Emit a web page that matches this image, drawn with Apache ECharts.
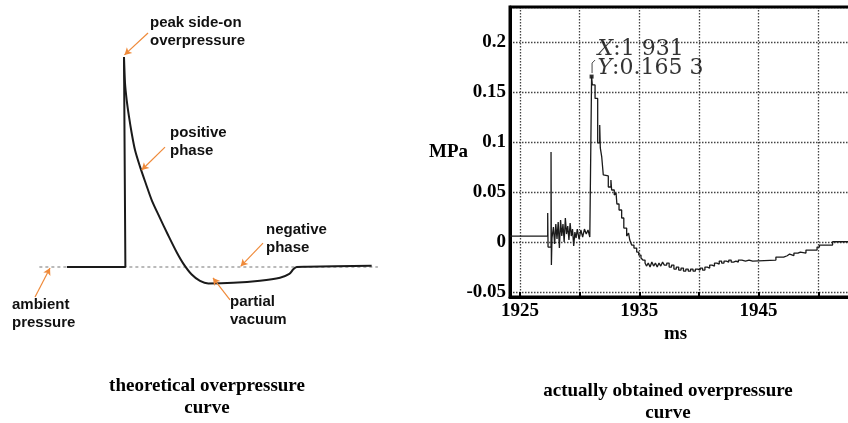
<!DOCTYPE html>
<html>
<head>
<meta charset="utf-8">
<script src="https://cdn.jsdelivr.net/npm/echarts@6/dist/echarts.min.js"></script>
<style>
html,body{margin:0;padding:0;background:#fff;}
#c{width:848px;height:423px;}
</style>
</head>
<body>
<div id="c"></div>
<script>
// ---------- Theoretical curve (arbitrary time units, pressure relative to peak) ----------
const theoRiseT = [-6.2, 0.15, 0.0];
const theoRiseP = [0, 0, 1.0];
const theoDecayT = [0.0, 0.109, 0.293, 0.543, 0.837, 1.196, 1.739, 2.359, 3.011, 3.837, 4.815, 5.728, 6.446, 7.359, 8.261, 9.163, 11.88, 14.78, 16.96, 17.97, 18.40, 18.77, 19.86, 26.92];
const theoDecayP = [1.0, 0.876, 0.795, 0.716, 0.637, 0.557, 0.478, 0.399, 0.319, 0.240, 0.150, 0.070, 0.016, -0.036, -0.066, -0.078, -0.075, -0.065, -0.051, -0.033, -0.011, 0.0, 0.001, 0.006];
const ambientT = [-9.2, 27.6];
const ambientP = [0, 0];

// ---------- Measured curve (ms, MPa) ----------
const timeMs = [
  1924.16, 1927.32, 1927.35, 1927.6, 1927.63, 1927.68, 1927.8, 1927.9, 1928.0, 1928.1,
  1928.2, 1928.3, 1928.4, 1928.5, 1928.6, 1928.7, 1928.8, 1928.9, 1929.0, 1929.1,
  1929.2, 1929.3, 1929.4, 1929.5, 1929.6, 1929.7, 1929.8, 1929.95, 1930.1, 1930.25,
  1930.4, 1930.55, 1930.7, 1930.85, 1931.0, 1931.06, 1931.29, 1931.51, 1931.68, 1931.73,
  1931.85, 1931.98, 1932.12, 1932.4, 1932.62, 1932.68, 1932.9, 1933.05, 1933.12, 1933.3,
  1933.52, 1933.7, 1933.94, 1934.1, 1934.2, 1934.36, 1934.55, 1934.78, 1934.95, 1935.14,
  1935.3, 1935.48, 1935.6, 1935.75, 1935.9, 1936.05, 1936.2, 1936.35, 1936.5, 1936.65,
  1936.8, 1936.95, 1937.1, 1937.3, 1937.5, 1937.7, 1937.9, 1938.1, 1938.3, 1938.5,
  1938.7, 1938.9, 1939.1, 1939.3, 1939.5, 1939.7, 1939.9, 1940.1, 1940.3, 1940.5,
  1940.7, 1940.9, 1941.1, 1941.3, 1941.5, 1941.7, 1941.9, 1942.1, 1942.3, 1942.5,
  1942.7, 1942.9, 1943.1, 1943.3, 1943.6, 1943.9, 1944.2, 1944.5, 1946.45, 1947.1,
  1947.4, 1947.6, 1947.96, 1948.3, 1948.5, 1948.97, 1949.9, 1950.1, 1951.2, 1953.08
];
const pressureMPa = [
  0.006, 0.029, -0.005, 0.090, -0.023, 0.004, 0.015, -0.002, 0.018, 0.003,
  0.020, -0.006, 0.022, 0.006, 0.018, 0.000, 0.024, 0.008, 0.016, 0.002,
  0.019, 0.006, 0.013, -0.004, 0.010, 0.004, 0.013, 0.003, 0.012, 0.005,
  0.013, 0.008, 0.012, 0.005, 0.1653, 0.157, 0.1435, 0.099, 0.117, 0.094,
  0.085, 0.067, 0.066, 0.055, 0.062, 0.052, 0.047, 0.049, 0.038, 0.032,
  0.024, 0.014, 0.006, 0.009, 0.002, -0.003, -0.006, -0.010, -0.013, -0.016,
  -0.018, -0.021, -0.024, -0.021, -0.025, -0.020, -0.024, -0.021, -0.025, -0.021,
  -0.024, -0.020, -0.023, -0.021, -0.025, -0.023, -0.027, -0.025, -0.028, -0.026,
  -0.029, -0.027, -0.029, -0.027, -0.029, -0.027, -0.028, -0.026, -0.028, -0.025,
  -0.026, -0.023, -0.024, -0.021, -0.022, -0.019, -0.021, -0.019, -0.020, -0.018,
  -0.020, -0.019, -0.020, -0.018, -0.019, -0.018, -0.019, -0.018, -0.015, -0.0137,
  -0.012, -0.0135, -0.011, -0.010, -0.011, -0.008, -0.005, -0.003, 0.0003, 0.0003
];
const peakPoint = [1931, 0.1653];
const peakLabelX = 'X:1 931';
const peakLabelY = 'Y:0.165 3';
const bracketT = [1931.04, 1931.04, 1931.29];
const bracketP = [0.1688, 0.1788, 0.1818];

const yTickLabels = ['-0.05', '0', '0.05', '0.1', '0.15', '0.2'];
const xTickLabels = ['1925', '1935', '1945'];

// annotation arrows on theoretical panel: [fromT, fromP, toT, toP]
const arrows = [
  [2.61, 1.114, 0.05, 1.01],
  [4.46, 0.571, 1.92, 0.462],
  [15.11, 0.114, 12.68, 0.003],
  [-9.67, -0.143, -8.04, -0.005],
  [11.52, -0.157, 9.67, -0.052]
];
const annotations = [
  {text: 'peak side-on\noverpressure', x: 150, y: 14},
  {text: 'positive\nphase', x: 170, y: 124},
  {text: 'negative\nphase', x: 266, y: 221},
  {text: 'ambient\npressure', x: 12, y: 296},
  {text: 'partial\nvacuum', x: 230, y: 293}
];
const captions = [
  {text: 'theoretical overpressure\ncurve', x: 207, y: 375},
  {text: 'actually obtained overpressure\ncurve', x: 668, y: 380}
];

const zip = (a, b) => a.map((v, i) => [v, b[i]]);
const ORANGE = '#ef8a3a';
const serif = 'Liberation Serif';

const chart = echarts.init(document.getElementById('c'), null, {renderer: 'canvas'});

const graphics = [];
annotations.forEach(a => graphics.push({
  type: 'text', x: a.x, y: a.y,
  style: {text: a.text, font: 'bold 15px "Liberation Sans"', fill: '#111', lineHeight: 18, textAlign: 'left', textVerticalAlign: 'top'}
}));
captions.forEach(c => graphics.push({
  type: 'text', x: c.x, y: c.y,
  style: {text: c.text, font: 'bold 19px "Liberation Serif"', fill: '#000', lineHeight: 22, textAlign: 'center', textVerticalAlign: 'top'}
}));

const option = {
  animation: false,
  backgroundColor: '#fff',
  grid: [
    {left: 32, top: 15, width: 368, height: 294, show: false, outerBoundsMode: 'none'},
    {left: 510, top: 7, width: 345, height: 290, show: true, borderColor: '#000', borderWidth: 3, z: 3, outerBoundsMode: 'none', containLabel: false}
  ],
  xAxis: [
    {type: 'value', gridIndex: 0, min: -10, max: 30, show: false},
    {
      type: 'value', gridIndex: 1, min: 1924.16, max: 1953.08,
      splitNumber: 6, minInterval: 5, maxInterval: 5,
      name: 'ms', nameLocation: 'middle', nameGap: 28, nameMoveOverlap: false,
      nameTextStyle: {fontFamily: serif, fontWeight: 'bold', fontSize: 19, color: '#000', padding: [0, 14, 0, 0]},
      axisLine: {show: true, onZero: false, lineStyle: {color: '#000', width: 3}},
      axisTick: {show: true, inside: true, length: 5, lineStyle: {color: '#000', width: 2}},
      axisLabel: {
        margin: 5, fontFamily: serif, fontWeight: 'bold', fontSize: 19, color: '#000',
        formatter: v => { const s = String(Math.round(v)); return (Math.abs(v - Math.round(v)) < 1e-6 && xTickLabels.includes(s)) ? s : ''; }
      },
      splitLine: {show: true, lineStyle: {color: '#444', width: 1.3, type: [1.5, 1.5]}}
    }
  ],
  yAxis: [
    {type: 'value', gridIndex: 0, min: -0.2, max: 1.2, show: false},
    {
      type: 'value', gridIndex: 1, min: -0.0549, max: 0.2348,
      splitNumber: 5, minInterval: 0.05, maxInterval: 0.05,
      name: 'MPa', nameLocation: 'middle', nameRotate: 0, nameGap: 42, nameMoveOverlap: false,
      nameTextStyle: {fontFamily: serif, fontWeight: 'bold', fontSize: 19, color: '#000', padding: [12, 0, 0, 0]},
      axisLine: {show: true, onZero: false, lineStyle: {color: '#000', width: 3}},
      axisTick: {show: false},
      axisLabel: {
        margin: 4, fontFamily: serif, fontWeight: 'bold', fontSize: 19, color: '#000',
        formatter: v => { const s = String(+v.toFixed(4)); return yTickLabels.includes(s) ? s : ''; }
      },
      splitLine: {show: true, lineStyle: {color: '#444', width: 1.3, type: [1.5, 1.5]}}
    }
  ],
  graphic: graphics,
  series: [
    {
      type: 'line', xAxisIndex: 0, yAxisIndex: 0, data: zip(ambientT, ambientP),
      symbol: 'none', silent: true,
      lineStyle: {color: '#777', width: 1, type: [3, 3]},
      markLine: {
        silent: true, symbol: ['none', 'arrow'], symbolSize: [6, 7],
        label: {show: false},
        lineStyle: {color: ORANGE, width: 1.2, type: 'solid'},
        data: arrows.map(a => [{coord: [a[0], a[1]]}, {coord: [a[2], a[3]]}])
      }
    },
    {
      type: 'line', xAxisIndex: 0, yAxisIndex: 0, data: zip(theoRiseT, theoRiseP),
      symbol: 'none', silent: true, lineStyle: {color: '#1a1a1a', width: 2}
    },
    {
      type: 'line', xAxisIndex: 0, yAxisIndex: 0, data: zip(theoDecayT, theoDecayP),
      symbol: 'none', silent: true, smooth: 0.3, lineStyle: {color: '#1a1a1a', width: 2}
    },
    {
      type: 'line', xAxisIndex: 1, yAxisIndex: 1, data: zip(timeMs, pressureMPa),
      step: 'end', symbol: 'none', silent: true, lineStyle: {color: '#1a1a1a', width: 1.3}
    },
    {
      type: 'line', xAxisIndex: 1, yAxisIndex: 1, data: zip(bracketT, bracketP),
      symbol: 'none', silent: true, lineStyle: {color: '#333', width: 0.9}
    },
    {
      type: 'scatter', xAxisIndex: 1, yAxisIndex: 1, data: [peakPoint],
      symbol: 'rect', symbolSize: 4, itemStyle: {color: '#000'}, silent: true,
      label: {
        show: true, position: [8, -35], align: 'left', verticalAlign: 'top',
        formatter: '{i|' + peakLabelX.charAt(0) + '}{n|' + peakLabelX.slice(1) + '}\n{i|' + peakLabelY.charAt(0) + '}{n|' + peakLabelY.slice(1) + '}',
        rich: {
          i: {fontFamily: 'DejaVu Serif', fontStyle: 'italic', fontSize: 22, color: '#000', lineHeight: 19},
          n: {fontFamily: 'DejaVu Serif', fontSize: 22, color: '#000', lineHeight: 19}
        }
      }
    }
  ]
};
chart.setOption(option);
</script>
</body>
</html>
